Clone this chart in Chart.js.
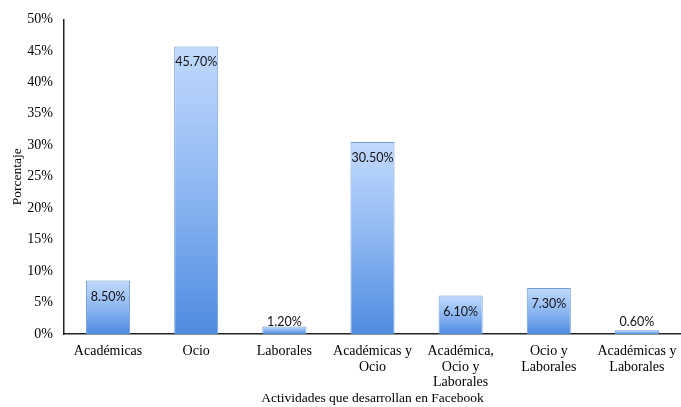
<!DOCTYPE html>
<html>
<head>
<meta charset="utf-8">
<script src="https://cdn.jsdelivr.net/npm/chart.js@4.4.1/dist/chart.umd.min.js"></script>
<style>
  html, body { margin: 0; padding: 0; background: #fff; }
  #wrap { width: 681px; height: 407px; position: relative; }
</style>
</head>
<body>
<div id="wrap"><canvas id="c"></canvas></div>
<script>
// Actividades que desarrollan los estudiantes en Facebook (porcentaje)
const categories = [
  'Académicas',
  'Ocio',
  'Laborales',
  ['Académicas y', 'Ocio'],
  ['Académica,', 'Ocio y', 'Laborales'],
  ['Ocio y', 'Laborales'],
  ['Académicas y', 'Laborales']
];
const percentages = [8.5, 45.7, 1.2, 30.5, 6.1, 7.3, 0.6];
const yTicks = [0, 5, 10, 15, 20, 25, 30, 35, 40, 45, 50];

const serif = "'Liberation Serif', 'Times New Roman', serif";

// vertical gradient per bar: light top, deeper blue at the base
function barFill(context) {
  const chart = context.chart;
  const y = chart.scales && chart.scales.y;
  if (!chart.chartArea || !y || context.parsed === undefined) return '#8fb6ef';
  const top = y.getPixelForValue(context.parsed.y);
  const base = y.getPixelForValue(0);
  if (Math.abs(base - top) < 1) return '#a9c9f7';
  const g = chart.ctx.createLinearGradient(0, top, 0, base);
  g.addColorStop(0, '#c2dafd');
  g.addColorStop(0.5, '#8db7f2');
  g.addColorStop(1, '#4f8be0');
  return g;
}

// percentage labels written on each bar
const valueLabels = {
  id: 'valueLabels',
  afterDatasetsDraw(chart) {
    const ctx = chart.ctx;
    const meta = chart.getDatasetMeta(0);
    const base = chart.scales.y.getPixelForValue(0);
    ctx.save();
    ctx.font = "12.5px Lato, 'Open Sans', sans-serif";
    ctx.fillStyle = '#111';
    ctx.textAlign = 'center';
    ctx.textBaseline = 'middle';
    meta.data.forEach((bar, i) => {
      const v = percentages[i];
      const y = Math.min(bar.y + 16, base - 12);
      ctx.fillText(v.toFixed(2) + '%', bar.x, y);
    });
    ctx.restore();
  }
};

new Chart(document.getElementById('c'), {
  type: 'bar',
  data: {
    labels: categories,
    datasets: [{
      data: percentages,
      backgroundColor: barFill,
      borderColor: '#6f9bd6',
      borderWidth: 1,
      categoryPercentage: 1,
      barPercentage: 0.5
    }]
  },
  options: {
    responsive: true,
    maintainAspectRatio: false,
    animation: false,
    layout: { padding: { top: 18, right: 0, left: 0, bottom: 0 } },
    plugins: { legend: { display: false }, tooltip: { enabled: false } },
    scales: {
      x: {
        offset: true,
        grid: { display: false, drawTicks: false },
        border: { display: true, color: '#222', width: 1.5 },
        ticks: {
          color: '#000',
          font: { family: serif, size: 14, lineHeight: 1.1 },
          padding: 10,
          maxRotation: 0,
          autoSkip: false
        },
        title: {
          display: true,
          text: 'Actividades que desarrollan en Facebook',
          color: '#000',
          font: { family: serif, size: 13.5 },
          padding: { top: 0, bottom: 0 }
        },
        afterFit(scale) {
          scale.height = 73;
          scale.paddingLeft = 0;
          scale.paddingRight = 0;
        }
      },
      y: {
        min: 0,
        max: 50,
        afterBuildTicks(scale) { scale.ticks = yTicks.map(v => ({ value: v })); },
        grid: { display: false, drawTicks: false },
        border: { display: true, color: '#222', width: 1.5 },
        ticks: {
          color: '#000',
          font: { family: serif, size: 14 },
          padding: 11,
          callback: v => v + '%'
        },
        title: {
          display: true,
          text: 'Porcentaje',
          color: '#000',
          font: { family: serif, size: 13.5 },
          padding: { top: 9, bottom: 0 }
        },
        afterFit(scale) { scale.width = 64; }
      }
    }
  },
  plugins: [valueLabels]
});
</script>
</body>
</html>
